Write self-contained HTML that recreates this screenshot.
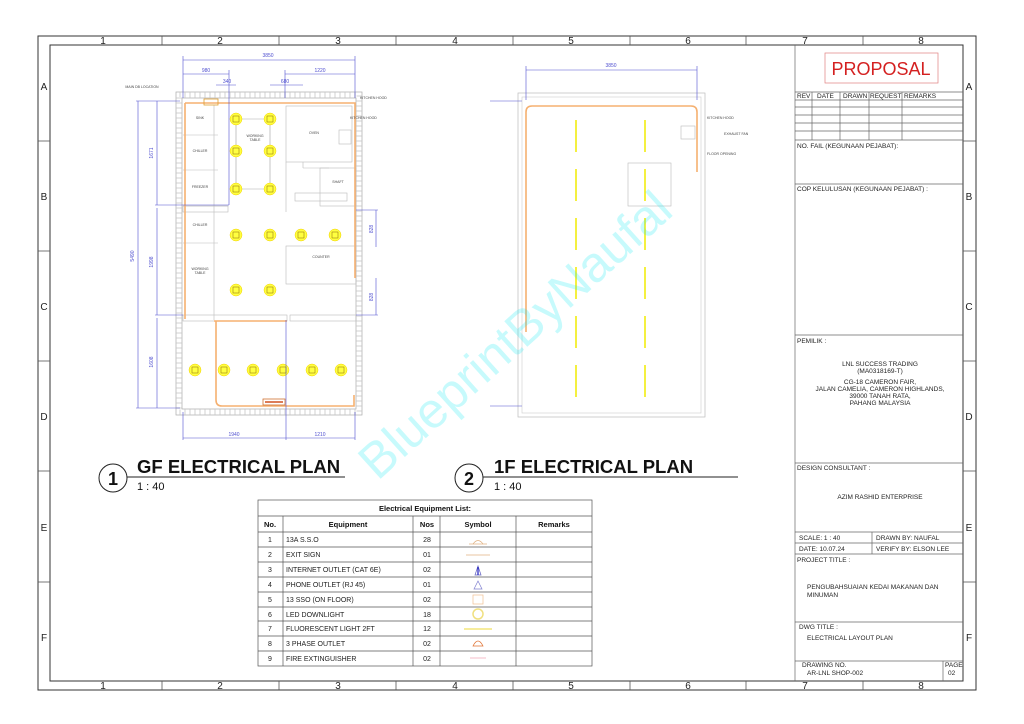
<!DOCTYPE html>
<html><head><meta charset="utf-8"><style>
html,body{margin:0;padding:0;background:#fff;}
svg{display:block;font-family:"Liberation Sans",sans-serif;}
</style></head><body>
<svg width="1024" height="724" viewBox="0 0 1024 724" xmlns="http://www.w3.org/2000/svg">
<rect width="1024" height="724" fill="#fff"/>
<!-- borders -->
<rect x="38" y="36" width="938" height="654" fill="none" stroke="#333" stroke-width="1"/>
<rect x="50" y="45" width="913" height="636" fill="none" stroke="#333" stroke-width="1"/>
<g stroke="#555" stroke-width="0.8">
<line x1="162" y1="36" x2="162" y2="45"/><line x1="279" y1="36" x2="279" y2="45"/><line x1="396" y1="36" x2="396" y2="45"/><line x1="513" y1="36" x2="513" y2="45"/><line x1="630" y1="36" x2="630" y2="45"/><line x1="746" y1="36" x2="746" y2="45"/><line x1="863" y1="36" x2="863" y2="45"/>
<line x1="162" y1="681" x2="162" y2="690"/><line x1="279" y1="681" x2="279" y2="690"/><line x1="396" y1="681" x2="396" y2="690"/><line x1="513" y1="681" x2="513" y2="690"/><line x1="630" y1="681" x2="630" y2="690"/><line x1="746" y1="681" x2="746" y2="690"/><line x1="863" y1="681" x2="863" y2="690"/>
<line x1="38" y1="141" x2="50" y2="141"/><line x1="38" y1="251" x2="50" y2="251"/><line x1="38" y1="361" x2="50" y2="361"/><line x1="38" y1="471" x2="50" y2="471"/><line x1="38" y1="582" x2="50" y2="582"/>
<line x1="963" y1="141" x2="976" y2="141"/><line x1="963" y1="251" x2="976" y2="251"/><line x1="963" y1="361" x2="976" y2="361"/><line x1="963" y1="471" x2="976" y2="471"/><line x1="963" y1="582" x2="976" y2="582"/>
</g>
<g font-size="10" fill="#222" text-anchor="middle">
<text x="103" y="44">1</text><text x="220" y="44">2</text><text x="338" y="44">3</text><text x="455" y="44">4</text><text x="571" y="44">5</text><text x="688" y="44">6</text><text x="805" y="44">7</text><text x="921" y="44">8</text>
<text x="103" y="689">1</text><text x="220" y="689">2</text><text x="338" y="689">3</text><text x="455" y="689">4</text><text x="571" y="689">5</text><text x="688" y="689">6</text><text x="805" y="689">7</text><text x="921" y="689">8</text>
<text x="44" y="90">A</text><text x="44" y="200">B</text><text x="44" y="310">C</text><text x="44" y="420">D</text><text x="44" y="531">E</text><text x="44" y="641">F</text>
<text x="969" y="90">A</text><text x="969" y="200">B</text><text x="969" y="310">C</text><text x="969" y="420">D</text><text x="969" y="531">E</text><text x="969" y="641">F</text>
</g>

<!-- title block -->
<g stroke="#666" stroke-width="0.7" fill="none">
<line x1="795" y1="45" x2="795" y2="681"/>
<rect x="825" y="53" width="113" height="30" stroke="#e08080"/>
<line x1="795" y1="92" x2="963" y2="92"/><line x1="795" y1="100" x2="963" y2="100"/><line x1="795" y1="107" x2="963" y2="107"/><line x1="795" y1="115" x2="963" y2="115"/><line x1="795" y1="123" x2="963" y2="123"/><line x1="795" y1="131" x2="963" y2="131"/><line x1="795" y1="140" x2="963" y2="140"/>
<line x1="812" y1="92" x2="812" y2="140"/><line x1="840" y1="92" x2="840" y2="140"/><line x1="869" y1="92" x2="869" y2="140"/><line x1="902" y1="92" x2="902" y2="140"/>
<line x1="795" y1="184" x2="963" y2="184"/>
<line x1="795" y1="335" x2="963" y2="335"/>
<line x1="795" y1="463" x2="963" y2="463"/>
<line x1="795" y1="532" x2="963" y2="532"/><line x1="795" y1="543" x2="963" y2="543"/><line x1="795" y1="554" x2="963" y2="554"/>
<line x1="872" y1="532" x2="872" y2="554"/>
<line x1="795" y1="622" x2="963" y2="622"/><line x1="795" y1="661" x2="963" y2="661"/>
<line x1="943" y1="661" x2="943" y2="681"/>
</g>
<text x="881" y="75" font-size="18" fill="#d42020" text-anchor="middle">PROPOSAL</text>
<g font-size="6.5" fill="#222">
<text x="797" y="98">REV</text><text x="817" y="98">DATE</text><text x="843" y="98">DRAWN</text><text x="870" y="98">REQUEST</text><text x="904" y="98">REMARKS</text>
<text x="797" y="148">NO. FAIL (KEGUNAAN PEJABAT):</text>
<text x="797" y="191">COP KELULUSAN (KEGUNAAN PEJABAT) :</text>
<text x="797" y="343">PEMILIK :</text>
<text x="797" y="470">DESIGN CONSULTANT :</text>
<text x="799" y="540">SCALE:  1 : 40</text><text x="876" y="540">DRAWN BY: NAUFAL</text>
<text x="799" y="551">DATE:   10.07.24</text><text x="876" y="551">VERIFY BY: ELSON LEE</text>
<text x="797" y="562">PROJECT TITLE :</text>
<text x="807" y="589">PENGUBAHSUAIAN KEDAI MAKANAN DAN</text><text x="807" y="597">MINUMAN</text>
<text x="799" y="629">DWG TITLE :</text>
<text x="807" y="640">ELECTRICAL LAYOUT PLAN</text>
<text x="802" y="667">DRAWING NO.</text><text x="807" y="675">AR-LNL SHOP-002</text>
<text x="945" y="667">PAGE</text><text x="948" y="675">02</text>
</g>
<g font-size="6.5" fill="#222" text-anchor="middle">
<text x="880" y="366">LNL SUCCESS TRADING</text><text x="880" y="373">(MA0318169-T)</text>
<text x="880" y="384">CG-18 CAMERON FAIR,</text><text x="880" y="391">JALAN CAMELIA, CAMERON HIGHLANDS,</text><text x="880" y="398">39000 TANAH RATA,</text><text x="880" y="405">PAHANG MALAYSIA</text>
<text x="880" y="499">AZIM RASHID ENTERPRISE</text>
</g>

<!-- GF plan -->
<g fill="none">
<rect x="176" y="92" width="186" height="323" stroke="#aaa" stroke-width="0.7"/>
<rect x="182" y="98" width="174" height="311" stroke="#aaa" stroke-width="0.7"/>
<rect x="179" y="95" width="180" height="317" stroke="#e8e8e8" stroke-width="5" stroke-dasharray="2 3"/>
<g stroke="#bbb" stroke-width="0.6">
<line x1="214" y1="105" x2="214" y2="320"/>
<line x1="183" y1="135" x2="218" y2="135"/><line x1="183" y1="170" x2="218" y2="170"/><line x1="183" y1="206" x2="228" y2="206"/><line x1="183" y1="243" x2="218" y2="243"/>
<rect x="183" y="206" width="45" height="6"/>
<rect x="183" y="315" width="104" height="6"/>
<rect x="290" y="315" width="66" height="6"/>
<rect x="286" y="106" width="66" height="56"/>
<line x1="286" y1="162" x2="286" y2="212"/><line x1="303" y1="162" x2="303" y2="168"/><line x1="303" y1="168" x2="329" y2="168"/>
<rect x="320" y="168" width="36" height="38"/>
<rect x="286" y="246" width="70" height="38"/>
<rect x="295" y="193" width="52" height="8"/>
<rect x="339" y="130" width="12" height="14"/>
<line x1="236" y1="119" x2="236" y2="189"/><line x1="270" y1="119" x2="270" y2="189"/>
<rect x="236" y="119" width="34" height="70"/>
</g>
<path d="M185 103 H355 V278 M185 103 V319 M214 321 H287 M216 321 V400 Q216 406 222 406 H354 V395" stroke="#f5b070" stroke-width="1.6"/>
<rect x="204" y="99" width="14" height="6" stroke="#e0a030" stroke-width="0.8"/>
<rect x="263" y="399" width="22" height="6" stroke="#d07030" stroke-width="0.8"/>
<line x1="265" y1="402" x2="283" y2="402" stroke="#d05020" stroke-width="1.5"/>
</g>
<g fill="#ffff40" stroke="#f0d000" stroke-width="0.5">
<circle cx="236" cy="119" r="6"/><circle cx="270" cy="119" r="6"/><circle cx="236" cy="151" r="6"/><circle cx="270" cy="151" r="6"/><circle cx="236" cy="189" r="6"/><circle cx="270" cy="189" r="6"/>
<circle cx="236" cy="235" r="6"/><circle cx="270" cy="235" r="6"/><circle cx="301" cy="235" r="6"/><circle cx="335" cy="235" r="6"/>
<circle cx="236" cy="290" r="6"/><circle cx="270" cy="290" r="6"/>
<circle cx="195" cy="370" r="6"/><circle cx="224" cy="370" r="6"/><circle cx="253" cy="370" r="6"/><circle cx="283" cy="370" r="6"/><circle cx="312" cy="370" r="6"/><circle cx="341" cy="370" r="6"/>
</g>
<g fill="none" stroke="#a08010" stroke-width="0.6">
<rect x="233" y="116" width="6" height="6"/><rect x="267" y="116" width="6" height="6"/><rect x="233" y="148" width="6" height="6"/><rect x="267" y="148" width="6" height="6"/><rect x="233" y="186" width="6" height="6"/><rect x="267" y="186" width="6" height="6"/>
<rect x="233" y="232" width="6" height="6"/><rect x="267" y="232" width="6" height="6"/><rect x="298" y="232" width="6" height="6"/><rect x="332" y="232" width="6" height="6"/>
<rect x="233" y="287" width="6" height="6"/><rect x="267" y="287" width="6" height="6"/>
<rect x="192" y="367" width="6" height="6"/><rect x="221" y="367" width="6" height="6"/><rect x="250" y="367" width="6" height="6"/><rect x="280" y="367" width="6" height="6"/><rect x="309" y="367" width="6" height="6"/><rect x="338" y="367" width="6" height="6"/>
</g>
<!-- dims GF -->
<g stroke="#5050d0" stroke-width="0.6" fill="none">
<line x1="183" y1="60" x2="355" y2="60"/><line x1="183" y1="74" x2="229" y2="74"/><line x1="285" y1="74" x2="355" y2="74"/><line x1="216" y1="85" x2="236" y2="85"/><line x1="270" y1="85" x2="303" y2="85"/>
<line x1="183" y1="56" x2="183" y2="98"/><line x1="355" y1="56" x2="355" y2="98"/><line x1="229" y1="70" x2="229" y2="205"/><line x1="285" y1="70" x2="285" y2="98"/>
<line x1="138" y1="101" x2="138" y2="408"/><line x1="157" y1="101" x2="157" y2="205"/><line x1="157" y1="208" x2="157" y2="315"/><line x1="157" y1="318" x2="157" y2="408"/>
<line x1="136" y1="101" x2="180" y2="101"/><line x1="136" y1="408" x2="180" y2="408"/><line x1="155" y1="205" x2="229" y2="205"/><line x1="155" y1="315" x2="183" y2="315"/>
<line x1="376" y1="210" x2="376" y2="247"/><line x1="376" y1="278" x2="376" y2="315"/><line x1="356" y1="210" x2="378" y2="210"/><line x1="356" y1="315" x2="378" y2="315"/>
<line x1="183" y1="438" x2="355" y2="438"/><line x1="183" y1="412" x2="183" y2="440"/><line x1="286" y1="320" x2="286" y2="440"/><line x1="355" y1="412" x2="355" y2="440"/>
</g>
<g font-size="5" fill="#5050d0" text-anchor="middle">
<text x="268" y="57">3850</text><text x="206" y="72">980</text><text x="320" y="72">1220</text><text x="227" y="83">340</text><text x="285" y="83">680</text>
<text x="234" y="436">1940</text><text x="320" y="436">1210</text>
<text x="134" y="256" transform="rotate(-90 134 256)">5490</text><text x="153" y="153" transform="rotate(-90 153 153)">1671</text><text x="153" y="262" transform="rotate(-90 153 262)">1998</text><text x="153" y="362" transform="rotate(-90 153 362)">1608</text>
<text x="373" y="229" transform="rotate(-90 373 229)">828</text><text x="373" y="297" transform="rotate(-90 373 297)">828</text>
</g>
<g font-size="3.5" fill="#444" text-anchor="middle">
<text x="200" y="119">SINK</text><text x="200" y="152">CHILLER</text><text x="200" y="188">FREEZER</text><text x="200" y="226">CHILLER</text><text x="200" y="270">WORKING</text><text x="200" y="274">TABLE</text>
<text x="255" y="137">WORKING</text><text x="255" y="141">TABLE</text><text x="314" y="134">OVEN</text><text x="338" y="183">SHAFT</text><text x="321" y="258">COUNTER</text>
<text x="142" y="88">MAIN DB LOCATION</text><text x="360" y="99" text-anchor="start">KITCHEN HOOD</text><text x="350" y="119" text-anchor="start">KITCHEN HOOD</text>
</g>

<!-- 1F plan -->
<g fill="none">
<rect x="518" y="93" width="187" height="324" stroke="#bbb" stroke-width="0.7"/>
<rect x="522" y="97" width="179" height="316" stroke="#ccc" stroke-width="0.6"/>
<path d="M526 332 V112 Q526 106 532 106 H691 Q697 106 697 112 V172" stroke="#f5b070" stroke-width="1.6"/>
<rect x="628" y="163" width="43" height="43" stroke="#bbb" stroke-width="0.6"/>
<rect x="681" y="126" width="14" height="13" stroke="#bbb" stroke-width="0.6"/>
<line x1="576" y1="120" x2="576" y2="400" stroke="#f4f040" stroke-width="2" stroke-dasharray="32 17"/>
<line x1="645" y1="120" x2="645" y2="400" stroke="#f4f040" stroke-width="2" stroke-dasharray="32 17"/>
<line x1="526" y1="70" x2="697" y2="70" stroke="#5050d0" stroke-width="0.6"/>
<line x1="526" y1="66" x2="526" y2="100" stroke="#5050d0" stroke-width="0.6"/><line x1="697" y1="66" x2="697" y2="100" stroke="#5050d0" stroke-width="0.6"/>
<line x1="490" y1="101" x2="522" y2="101" stroke="#5050d0" stroke-width="0.6"/><line x1="490" y1="406" x2="522" y2="406" stroke="#5050d0" stroke-width="0.6"/>
</g>
<text x="611" y="67" font-size="5" fill="#5050d0" text-anchor="middle">3850</text>
<g font-size="3.5" fill="#444"><text x="707" y="119">KITCHEN HOOD</text><text x="724" y="135">EXHAUST FAN</text><text x="707" y="155">FLOOR OPENING</text></g>

<!-- watermark -->
<text x="515" y="352" font-size="50" fill="#00e8f0" fill-opacity="0.22" text-anchor="middle" transform="rotate(-42 515 335)">BlueprintByNaufal</text>

<!-- plan titles -->
<g fill="none" stroke="#222" stroke-width="1"><circle cx="113" cy="478" r="14"/><circle cx="469" cy="478" r="14"/>
<line x1="127" y1="477" x2="345" y2="477"/><line x1="483" y1="477" x2="738" y2="477"/></g>
<g fill="#111"><text x="113" y="485" font-size="18" font-weight="bold" text-anchor="middle">1</text><text x="469" y="485" font-size="18" font-weight="bold" text-anchor="middle">2</text>
<text x="137" y="473" font-size="18.5" font-weight="bold">GF ELECTRICAL PLAN</text><text x="494" y="473" font-size="18.5" font-weight="bold">1F ELECTRICAL PLAN</text>
<text x="137" y="490" font-size="11">1 : 40</text><text x="494" y="490" font-size="11">1 : 40</text></g>

<!-- table -->
<g stroke="#555" stroke-width="0.7" fill="none">
<rect x="258" y="500" width="334" height="166"/>
<line x1="258" y1="516" x2="592" y2="516"/><line x1="258" y1="532" x2="592" y2="532"/>
<line x1="258" y1="547" x2="592" y2="547"/><line x1="258" y1="562" x2="592" y2="562"/><line x1="258" y1="577" x2="592" y2="577"/><line x1="258" y1="592" x2="592" y2="592"/><line x1="258" y1="607" x2="592" y2="607"/><line x1="258" y1="621" x2="592" y2="621"/><line x1="258" y1="636" x2="592" y2="636"/><line x1="258" y1="651" x2="592" y2="651"/>
<line x1="283" y1="516" x2="283" y2="666"/><line x1="413" y1="516" x2="413" y2="666"/><line x1="440" y1="516" x2="440" y2="666"/><line x1="516" y1="516" x2="516" y2="666"/>
</g>
<g font-size="7.5" fill="#111" font-weight="bold" text-anchor="middle">
<text x="425" y="511">Electrical Equipment List:</text>
<text x="270" y="527">No.</text><text x="348" y="527">Equipment</text><text x="427" y="527">Nos</text><text x="478" y="527">Symbol</text><text x="554" y="527">Remarks</text>
</g>
<g font-size="7" fill="#222">
<g text-anchor="middle"><text x="270" y="542">1</text><text x="270" y="557">2</text><text x="270" y="572">3</text><text x="270" y="587">4</text><text x="270" y="602">5</text><text x="270" y="617">6</text><text x="270" y="631">7</text><text x="270" y="646">8</text><text x="270" y="661">9</text>
<text x="427" y="542">28</text><text x="427" y="557">01</text><text x="427" y="572">02</text><text x="427" y="587">01</text><text x="427" y="602">02</text><text x="427" y="617">18</text><text x="427" y="631">12</text><text x="427" y="646">02</text><text x="427" y="661">02</text></g>
<text x="286" y="542">13A S.S.O</text><text x="286" y="557">EXIT SIGN</text><text x="286" y="572">INTERNET OUTLET (CAT 6E)</text><text x="286" y="587">PHONE OUTLET (RJ 45)</text><text x="286" y="602">13 SSO (ON FLOOR)</text><text x="286" y="617">LED DOWNLIGHT</text><text x="286" y="631">FLUORESCENT LIGHT 2FT</text><text x="286" y="646">3 PHASE OUTLET</text><text x="286" y="661">FIRE EXTINGUISHER</text>
</g>
<g fill="none" stroke-width="0.7">
<path d="M473 544 Q478 537 483 544" stroke="#e0b080"/><line x1="469" y1="544" x2="487" y2="544" stroke="#e0b080"/>
<line x1="466" y1="555" x2="490" y2="555" stroke="#e0b080"/>
<path d="M478 566 L475 575 H481 Z" stroke="#6060c0"/><line x1="478" y1="567" x2="478" y2="575" stroke="#2020c0" stroke-width="1.2"/>
<path d="M478 581 L474 589 H482 Z" stroke="#8080d0"/>
<rect x="473" y="595" width="10" height="9" stroke="#f0c090"/>
<circle cx="478" cy="614" r="5" stroke="#f0e080" stroke-width="1.5"/>
<line x1="464" y1="629" x2="492" y2="629" stroke="#f0e060" stroke-width="1.2"/>
<path d="M473 646 Q478 636 483 646 Z" stroke="#e07030"/>
<line x1="470" y1="658" x2="486" y2="658" stroke="#f0a0b0"/>
</g>
</svg>
</body></html>
